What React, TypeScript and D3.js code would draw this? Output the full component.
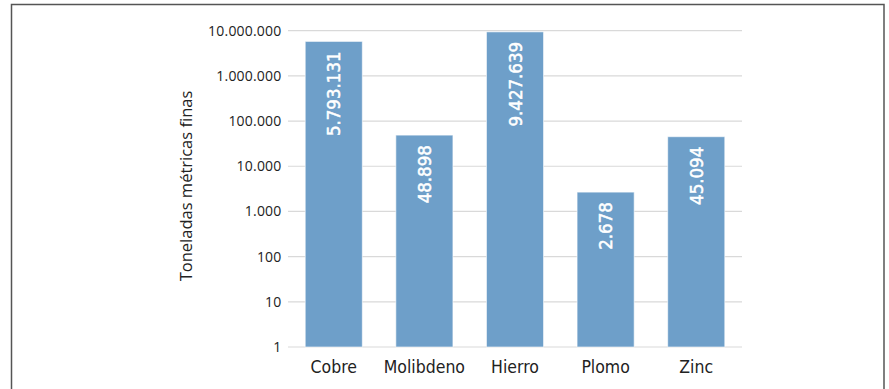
import React, { useEffect, useRef } from 'react';
import * as d3 from 'd3';

const categories = ['Cobre', 'Molibdeno', 'Hierro', 'Plomo', 'Zinc'];
const values = [5793131, 48898, 9427639, 2678, 45094];
const valueLabels = ['5.793.131', '48.898', '9.427.639', '2.678', '45.094'];
const tickValues = [1, 10, 100, 1000, 10000, 100000, 1000000, 10000000];
const tickLabels = ['1', '10', '100', '1.000', '10.000', '100.000', '1.000.000', '10.000.000'];
const yTitle = 'Toneladas métricas finas';

const width = 889;
const height = 389;
const margin = { top: 30.7, right: 147, bottom: 42, left: 288 };

const App: React.FC = () => {
  const svgRef = useRef<SVGSVGElement>(null);

  useEffect(() => {
    if (!svgRef.current) return;
    const svg = d3.select(svgRef.current);
    svg.selectAll('*').remove();

    const x = d3.scaleBand<string>()
      .domain(categories)
      .range([margin.left, width - margin.right])
      .paddingInner(0.37)
      .paddingOuter(0.19);

    const y = d3.scaleLog()
      .domain([1, 1e7])
      .range([height - margin.bottom, margin.top]);

    // frame
    svg.append('rect')
      .attr('x', 11.5)
      .attr('y', 4.5)
      .attr('width', 872.5)
      .attr('height', 400)
      .attr('fill', 'none')
      .attr('stroke', '#555')
      .attr('stroke-width', 1.5);

    // gridlines
    svg.append('g')
      .selectAll('line')
      .data(tickValues)
      .enter()
      .append('line')
      .attr('x1', margin.left)
      .attr('x2', width - margin.right)
      .attr('y1', d => y(d))
      .attr('y2', d => y(d))
      .attr('stroke', '#d9d9d9')
      .attr('stroke-width', 1.2);

    // y tick labels
    svg.append('g')
      .selectAll('text')
      .data(tickValues)
      .enter()
      .append('text')
      .attr('x', 281.5)
      .attr('y', d => y(d))
      .attr('dy', '0.35em')
      .attr('text-anchor', 'end')
      .style('font-family', '"Open Sans", sans-serif')
      .style('font-size', '14px')
      .style('letter-spacing', '0.2px')
      .attr('fill', '#222')
      .text((d, i) => tickLabels[i]);

    // y title
    svg.append('text')
      .attr('transform', `translate(192,186) rotate(-90)`)
      .attr('text-anchor', 'middle')
      .style('font-family', '"Open Sans", sans-serif')
      .style('font-size', '16.5px')
      .attr('fill', '#222')
      .text(yTitle);

    // bars
    const bars = svg.append('g')
      .selectAll('g')
      .data(values)
      .enter()
      .append('g');

    bars.append('rect')
      .attr('x', (d, i) => x(categories[i]) as number)
      .attr('width', x.bandwidth())
      .attr('y', d => y(d))
      .attr('height', d => y(1) - y(d))
      .attr('fill', '#6e9fc9')
      .attr('stroke', 'rgba(255,255,255,0.6)')
      .attr('stroke-width', 1);

    // value labels (medium weight imitated with a thin stroke)
    bars.append('text')
      .attr('transform', (d, i) => {
        const cx = (x(categories[i]) as number) + x.bandwidth() / 2;
        return `translate(${cx},${y(d) + 10}) rotate(-90)`;
      })
      .attr('dy', '0.36em')
      .attr('text-anchor', 'end')
      .style('font-family', '"DejaVu Sans Condensed", "DejaVu Sans", sans-serif')
      .style('font-size', '18.5px')
      .attr('fill', '#fff')
      .attr('stroke', '#fff')
      .attr('stroke-width', 0.5)
      .text((d, i) => valueLabels[i]);

    // category labels
    svg.append('g')
      .selectAll('text')
      .data(categories)
      .enter()
      .append('text')
      .attr('x', d => (x(d) as number) + x.bandwidth() / 2)
      .attr('y', 373)
      .attr('text-anchor', 'middle')
      .style('font-family', '"DejaVu Sans Condensed", "DejaVu Sans", sans-serif')
      .style('font-size', '17.5px')
      .attr('fill', '#222')
      .text(d => d);
  }, []);

  return (
    <svg
      ref={svgRef}
      width={width}
      height={height}
      style={{ position: 'absolute', left: 0, top: 0, background: '#fff' }}
    ></svg>
  );
};

export default App;
